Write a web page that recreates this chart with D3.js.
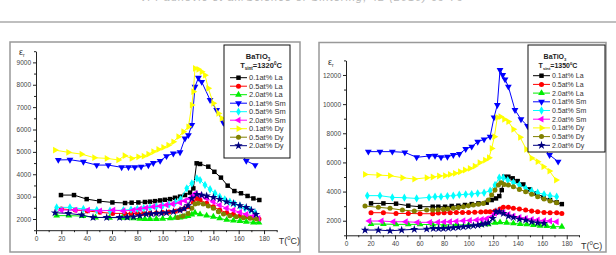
<!DOCTYPE html>
<html>
<head>
<meta charset="utf-8">
<script src="https://cdn.jsdelivr.net/npm/d3@7"></script>
<style>
  body { margin: 0; background: #fff; }
  svg { display: block; }
  text { font-family: Arial, "Liberation Sans", sans-serif; }
</style>
</head>
<body>
<svg id="chart"></svg>
<script>
// ---- data ----
const SERIES_NAMES = ['0.1at% La', '0.5at% La', '2.0at% La', '0.1at% Sm', '0.5at% Sm',
  '2.0at% Sm', '0.1at% Dy', '0.5at% Dy', '2.0at% Dy'];
const X_TICKS = [0, 20, 40, 60, 80, 100, 120, 140, 160, 180];
const LEFT_Y_TICKS = [2000, 3000, 4000, 5000, 6000, 7000, 8000, 9000];
const RIGHT_Y_TICKS = [2000, 4000, 6000, 8000, 10000, 12000];

// Tsint = 1320 C, [T, eps_r]
const L_LA01 = [[19.7,3070],[30,3070],[40,2890],[50,2800],[60.3,2740],[70.3,2715],[75.5,2730],[80.8,2740],[86,2760],[90,2775],[94,2800],[98,2830],[101.8,2860],[105.8,2890],[109.7,2950],[113.7,3000],[117.6,3070],[121.6,3180],[124.2,3370],[126.8,4490],[129.5,4460],[136,4340],[140.8,4110],[146,3850],[151.3,3490],[156.6,3250],[161.8,3150],[167,3030],[171.6,2920],[176.3,2850]];
const L_LA05 = [[20,2450],[31,2400],[40.5,2360],[50.5,2300],[60.5,2250],[70,2250],[75,2240],[80,2250],[85,2250],[90,2260],[95,2270],[100,2290],[105,2310],[110,2350],[113.7,2400],[117,2460],[120,2550],[124,2770],[127,2920],[129.5,2850],[134.7,2700],[140,2550],[145,2400],[150.5,2280],[155.8,2210],[161,2130],[166,2100],[171.6,2060],[176,2000]];
const L_LA20 = [[16.3,2150],[26,2150],[37,2130],[47,2070],[58,2060],[68,2060],[72,2050],[77,2030],[82,2010],[86,2000],[90,2000],[95,2000],[100,2010],[106,2030],[110,2050],[113.7,2070],[117,2100],[120,2130],[123,2200],[125.5,2280],[129.5,2210],[134.7,2150],[140,2100],[145,2030],[150.5,1960],[155.8,1930],[161,1910],[166,1880],[171.6,1840],[176,1840]];
const L_SM01 = [[17.6,4640],[26.8,4650],[37.4,4560],[47.9,4410],[57,4410],[67.6,4310],[73,4320],[78,4320],[83,4340],[88.7,4400],[92.6,4500],[98,4600],[103,4810],[108.4,4930],[113.7,4980],[117.6,5600],[120.3,5750],[123,6200],[125.5,7910],[128.2,8310],[130.8,8130],[137.4,7320],[142.6,6870],[147.9,6300],[153,5800],[160,5100],[166,4600],[173,4410]];
const L_SM05 = [[16.3,2520],[26.8,2520],[37.4,2450],[48,2400],[58.4,2370],[69,2400],[75,2420],[80,2450],[85,2480],[90,2520],[95,2560],[100,2600],[105,2650],[110,2750],[114,2880],[119,3370],[123,3590],[127,3820],[129.5,3740],[133.4,3520],[137.4,3330],[141.3,3150],[145,3000],[149,2880],[153,2770],[157,2670],[161,2580],[165,2480],[169,2400],[173,2280]];
const L_SM20 = [[20,2400],[31,2400],[41,2400],[50.5,2360],[61,2400],[69,2360],[77,2400],[82,2450],[87,2500],[92.6,2550],[98,2580],[103,2630],[108,2670],[113.7,2730],[117.6,2820],[121.6,2920],[124,3040],[126,3150],[129.5,3070],[134.7,2920],[140,2770],[145,2620],[150.5,2480],[155.8,2400],[161,2300],[166,2210],[171.6,2130],[175.5,2030]];
const L_DY01 = [[15,5080],[25.5,4980],[36,4900],[46,4740],[55.8,4710],[65,4640],[70,4830],[75.5,4710],[80.8,4780],[85,4810],[88.7,4900],[92.6,5010],[96.6,5110],[100.5,5200],[104.5,5300],[108.4,5450],[112.4,5680],[116.3,5900],[120.3,6120],[123,7090],[124.2,7690],[125.5,8730],[128.2,8690],[130.8,8580],[133.4,8430],[136,7840],[140,7170],[144,6720],[146.6,6500],[152,6000],[158,5500],[164,5100]];
const L_DY05 = [[112,2070],[116,2130],[120,2250],[123,2480],[125.5,2670],[128,2700],[132,2670],[136,2580],[140,2480],[144,2330],[148,2220],[153,2150],[158,2100],[163.7,2060],[169,2030],[174,2000]];
const L_DY20 = [[15,2280],[25.5,2250],[36,2180],[45,2070],[55.8,2070],[66,2070],[72,2080],[77,2100],[82,2150],[87,2220],[91,2230],[95,2250],[99,2260],[103,2280],[108.4,2330],[113.7,2400],[117,2470],[120,2600],[123,2920],[127,3100],[130.8,3070],[134.7,3030],[140,2970],[145,2880],[150.5,2770],[155.8,2700],[161,2600],[166,2520],[170,2400],[173.7,2210]];

// Tsint = 1350 C
const R_LA01 = [[20.4,3190],[30.5,3190],[40.8,3170],[50.8,3030],[60.4,2960],[70.7,2960],[75.3,2960],[80.8,2960],[86.2,3010],[91.6,3030],[97,3080],[102.5,3140],[108,3190],[114.7,3240],[118.8,3420],[122.3,3530],[125,3690],[127,4100],[129,5020],[132.4,5020],[135.9,4910],[140,4720],[144.6,4490],[150,4150],[155.5,3880],[161,3600],[166.4,3420],[171.8,3260],[176,3140]];
const R_LA05 = [[20.4,2550],[30.5,2550],[40.8,2500],[50.8,2500],[60.4,2480],[70.7,2480],[75.3,2530],[80,2550],[85,2550],[90,2560],[95,2560],[100,2570],[105,2580],[110,2600],[114,2610],[117.5,2620],[121.5,2660],[125.6,2800],[128.3,2920],[132.4,2920],[136.5,2850],[141.4,2800],[146.5,2730],[151.4,2660],[156.3,2620],[161.5,2570],[166.4,2550],[171.8,2550],[176,2500]];
const R_LA20 = [[20.4,1770],[30.5,1770],[40.8,1750],[50.8,1750],[60.4,1750],[70.7,1730],[80,1720],[90,1720],[100,1710],[110,1720],[116,1750],[121.5,1860],[125.6,1890],[131,1860],[136.5,1820],[142,1770],[147.4,1750],[152.8,1700],[158.2,1660],[163.7,1630],[169,1590],[176,1590]];
const R_SM01 = [[18.2,6740],[27.7,6740],[37.8,6740],[48,6690],[57.6,6350],[67.7,6440],[72.6,6460],[77.5,6350],[82.7,6390],[87.5,6510],[92.4,6580],[97.6,6920],[102.5,7080],[107.4,7420],[112.6,7580],[117.5,7770],[120.7,9090],[123.4,9940],[125.6,12340],[127.8,12000],[129.7,11700],[132.4,11200],[137.8,9600],[142.7,8960],[148,8500],[155,7700],[161,7000],[166,6510],[173,6050]];
const R_SM05 = [[17.4,3720],[27.7,3720],[37.8,3600],[47.6,3580],[57.6,3530],[67.7,3600],[72.6,3650],[77.5,3650],[82.7,3690],[87.5,3720],[92.4,3780],[97.6,3810],[102.5,3830],[107.4,3880],[112.6,3920],[117.5,4060],[121.5,4450],[125,4950],[128.3,4950],[131.9,4790],[136.5,4610],[141.4,4450],[146.5,4220],[151.4,4040],[156.3,3920],[161.5,3810],[166.4,3720],[171.8,3650]];
const R_SM20 = [[19,1980],[29,1980],[38.6,1930],[48.7,1930],[58.2,1890],[68.5,1890],[75,1900],[80,1920],[84.8,1930],[90,1960],[95.7,2000],[101,2020],[106.6,2050],[110.7,2090],[114.7,2140],[118.8,2270],[121.5,2500],[124.3,2620],[128.3,2550],[132.4,2430],[136.5,2320],[141.4,2230],[146.5,2160],[151.4,2090],[156.3,2050],[161.5,2000],[166.4,1980],[171.8,1930]];
const R_DY01 = [[15.5,5180],[26.4,5130],[35.9,5090],[46,4950],[55.7,4860],[65.8,4950],[70.7,5000],[75.9,5070],[80.8,5090],[84.8,5180],[88.9,5250],[93,5360],[97,5480],[101,5590],[105,5750],[109,5980],[113.4,6160],[116.6,6320],[118.8,6960],[121,7770],[123.4,9090],[126,9140],[129,8960],[132.4,8800],[136.5,8270],[142,7720],[147,6900],[151.4,6300],[156.3,6050],[161,5710],[165.9,5410],[171.3,4790]];
const R_DY05 = [[15.5,3010],[26.4,2920],[35.9,2850],[46,2730],[55.7,2660],[65.8,2730],[70.7,2730],[75,2750],[79.4,2780],[83,2800],[87.5,2850],[91.6,2900],[95.7,2960],[99.8,3020],[103.9,3080],[108,3130],[112,3190],[116,3420],[118.8,3760],[121.5,4100],[124.3,4450],[126.4,4610],[129,4490],[132.4,4450],[136.5,4330],[141.4,4150],[146.5,3990],[151.4,3810],[156.3,3650],[161.5,3490],[166.4,3350],[171.8,3240]];
const R_DY20 = [[15.5,1360],[26.4,1360],[35.9,1310],[45.4,1360],[55.7,1410],[65.8,1430],[71.2,1470],[75.5,1470],[79.4,1470],[83.5,1490],[87.5,1520],[91.6,1550],[95.7,1590],[99.8,1620],[103.9,1660],[107.5,1700],[110.7,1750],[113.5,1800],[116,1860],[119.6,2160],[122.3,2620],[125,2620],[128.3,2500],[132.4,2320],[136.5,2230],[141.4,2110],[146.5,2050],[151.4,1930],[156.3,1860],[161.5,1820]];

// ---- styles ----
const COLORS = ['#000000', '#ff0000', '#00ee00', '#0000ff', '#00ffff', '#ff00ff', '#ffff00', '#808000', '#000080'];
// [symbol type, rotation]
const SYMBOLS = [
  [d3.symbolSquare, 0], [d3.symbolCircle, 0], [d3.symbolTriangle, 0],
  [d3.symbolTriangle, 180], [d3.symbolDiamond, 0], [d3.symbolTriangle, -90],
  [d3.symbolTriangle, 90], [d3.symbolCircle, 0], [d3.symbolStar, 0]
];
const symSize = i => i === 8 ? 22 : 20;

const W = 616, H = 255;
const svg = d3.select('#chart').attr('width', W).attr('height', H);
svg.append('rect').attr('width', W).attr('height', H).attr('fill', '#fff');

// page header (cut off at the top of the scan)
svg.append('text').attr('x', 140).attr('y', 1).attr('textLength', 323)
  .attr('font-family', 'Liberation Serif, serif').attr('font-style', 'italic')
  .attr('font-size', 11).attr('fill', '#bbb')
  .text('V. Paunović et al./Science of Sintering, 42 (2010) 69-79');
svg.append('line').attr('x1', 0).attr('x2', W).attr('y1', 22).attr('y2', 22)
  .attr('stroke', '#aaa').attr('stroke-width', 1.5);

function drawPanel(cfg) {
  const g = svg.append('g');
  g.append('rect').attr('x', cfg.frame[0]).attr('y', cfg.frame[1])
    .attr('width', cfg.frame[2]).attr('height', cfg.frame[3])
    .attr('fill', 'none').attr('stroke', '#999').attr('stroke-width', 1.5);

  const x = d3.scaleLinear().domain([0, 190]).range(cfg.xRange);
  const y = d3.scaleLinear().domain(cfg.yDomain).range(cfg.yRange);

  // axes - major + minor ticks
  g.append('g').attr('transform', `translate(0,${cfg.yRange[0]})`)
    .call(d3.axisBottom(x).tickValues(X_TICKS).tickSize(4).tickSizeOuter(0).tickPadding(2));
  g.append('g').attr('transform', `translate(0,${cfg.yRange[0]})`)
    .call(d3.axisBottom(x).tickValues(d3.range(10, 191, 20)).tickSize(2).tickFormat(''))
    .select('.domain').remove();
  g.append('g').attr('transform', `translate(${cfg.xRange[0]},0)`)
    .call(d3.axisLeft(y).tickValues(cfg.yTicks).tickSize(3).tickSizeOuter(0).tickPadding(2)
      .tickFormat(d3.format('d')));
  g.append('g').attr('transform', `translate(${cfg.xRange[0]},0)`)
    .call(d3.axisLeft(y).tickValues(cfg.yMinor).tickSize(2).tickFormat(''))
    .select('.domain').remove();
  g.selectAll('.tick text').attr('font-size', 6.5).attr('fill', '#444')
    .attr('font-family', 'Arial, Liberation Sans, sans-serif');
  g.selectAll('.domain, .tick line').attr('stroke', '#222');

  // axis titles
  const tx = g.append('text').attr('x', cfg.xRange[1] + 2).attr('y', cfg.yRange[0] + 14)
    .attr('font-size', 9).attr('fill', '#333');
  tx.append('tspan').text('T(');
  tx.append('tspan').attr('font-size', 6).attr('dy', -4).text('0');
  tx.append('tspan').attr('dy', 4).text('C)');
  const ty = g.append('text').attr('x', cfg.epsPos[0]).attr('y', cfg.epsPos[1])
    .attr('font-size', 9).attr('fill', '#333');
  ty.append('tspan').text('ε');
  ty.append('tspan').attr('font-size', 5).attr('dy', 2).text('r');

  // series
  const line = d3.line().x(d => x(d[0])).y(d => y(d[1]));
  cfg.series.forEach((data, i) => {
    const s = g.append('g');
    s.append('path').datum(data).attr('d', line)
      .attr('fill', 'none').attr('stroke', COLORS[i]).attr('stroke-width', 1);
    const sym = d3.symbol().type(SYMBOLS[i][0]).size(symSize(i));
    s.selectAll('path.pt').data(data).enter().append('path').attr('class', 'pt')
      .attr('d', sym)
      .attr('transform', d => `translate(${x(d[0])},${y(d[1])}) rotate(${SYMBOLS[i][1]})`)
      .attr('fill', COLORS[i]);
  });

  // legend
  const L = cfg.legend;
  const lg = g.append('g');
  lg.append('rect').attr('x', L.x).attr('y', L.y).attr('width', L.w).attr('height', L.h)
    .attr('fill', '#fff').attr('stroke', '#111').attr('stroke-width', 1);
  const t1 = lg.append('text').attr('x', L.titleX).attr('y', L.y + 14).attr('text-anchor', 'middle')
    .attr('font-size', L.fs).attr('font-weight', 'bold').attr('fill', '#222');
  t1.append('tspan').text('BaTiO');
  t1.append('tspan').attr('font-size', L.fs * 0.6).attr('dy', 2).text('3');
  const t2 = lg.append('text').attr('x', L.titleX + 3).attr('y', L.y + 23).attr('text-anchor', 'middle')
    .attr('font-size', L.fs).attr('font-weight', 'bold').attr('fill', '#222');
  t2.append('tspan').text('T');
  t2.append('tspan').attr('font-size', L.fs * 0.6).attr('dy', 2).text('sint');
  t2.append('tspan').attr('dy', -2).text('=' + cfg.temp);
  t2.append('tspan').attr('font-size', L.fs * 0.6).attr('dy', -3).text('0');
  t2.append('tspan').attr('dy', 3).text('C');
  SERIES_NAMES.forEach((name, i) => {
    const yy = L.row0 + i * L.step;
    lg.append('line').attr('x1', L.lx0).attr('x2', L.lx1).attr('y1', yy).attr('y2', yy)
      .attr('stroke', COLORS[i]).attr('stroke-width', 1);
    lg.append('path').attr('d', d3.symbol().type(SYMBOLS[i][0]).size(symSize(i))())
      .attr('transform', `translate(${(L.lx0 + L.lx1) / 2},${yy}) rotate(${SYMBOLS[i][1]})`)
      .attr('fill', COLORS[i]);
    lg.append('text').attr('x', L.lx1 + 2).attr('y', yy + L.fs * 0.36)
      .attr('font-size', L.fs).attr('fill', '#333').text(name);
  });
}

drawPanel({
  frame: [10, 42, 290, 210],
  xRange: [36, 276.7],
  yDomain: [1500, 9500], yRange: [230.2, 51.2],
  yTicks: LEFT_Y_TICKS, yMinor: d3.range(1500, 9501, 1000),
  epsPos: [19, 55],
  temp: '1320',
  series: [L_LA01, L_LA05, L_LA20, L_SM01, L_SM05, L_SM20, L_DY01, L_DY05, L_DY20],
  legend: {x: 224, y: 45, w: 66, h: 113, titleX: 258, fs: 7.5,
    row0: 77.7, step: 8.5, lx0: 230, lx1: 247}
});

drawPanel({
  frame: [319, 42.5, 287, 209.5],
  xRange: [346, 579],
  yDomain: [1000, 13000], yRange: [235.3, 60.4],
  yTicks: RIGHT_Y_TICKS, yMinor: d3.range(1000, 13001, 2000),
  epsPos: [328, 65],
  temp: '1350',
  series: [R_LA01, R_LA05, R_LA20, R_SM01, R_SM05, R_SM20, R_DY01, R_DY05, R_DY20],
  legend: {x: 528, y: 45, w: 77, h: 107, titleX: 555, fs: 7,
    row0: 75.7, step: 8.7, lx0: 533, lx1: 550}
});
</script>
</body>
</html>
